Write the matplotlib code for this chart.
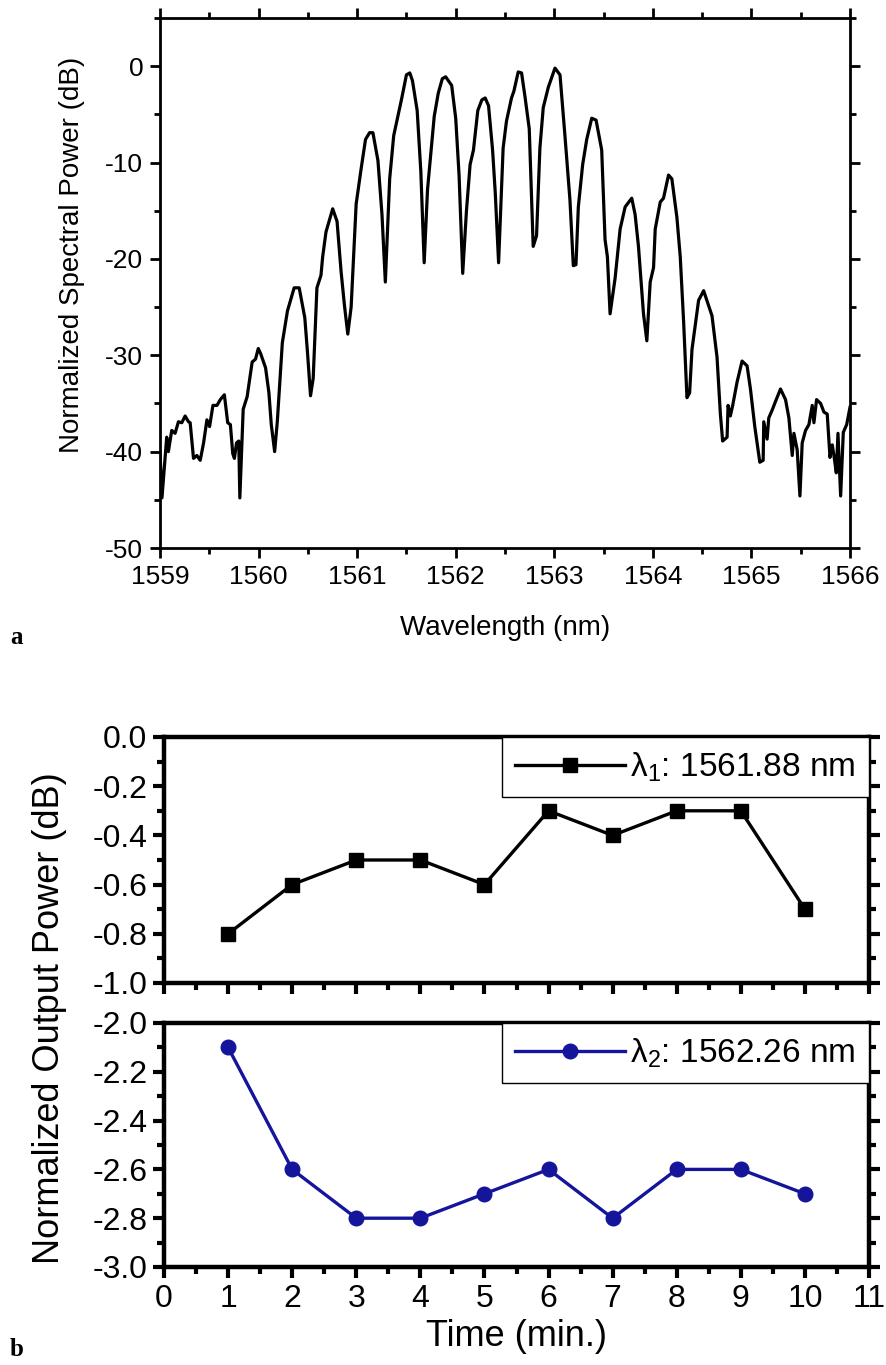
# -*- coding: utf-8 -*-
# Espectro normalizado (a) y estabilidad de potencia de salida (b)
import numpy as np
import matplotlib.pyplot as plt
from matplotlib.ticker import MultipleLocator

plt.rcParams['font.family'] = ['Liberation Sans', 'DejaVu Sans']
plt.rcParams['axes.unicode_minus'] = False
plt.rcParams['mathtext.fontset'] = 'custom'
plt.rcParams['mathtext.rm'] = 'Liberation Sans'
plt.rcParams['mathtext.it'] = 'Liberation Sans:italic'
plt.rcParams['mathtext.default'] = 'regular'

# ------------------------------------------------------------------
# Datos
# ------------------------------------------------------------------
wavelength = [
    1559.000, 1559.020, 1559.068, 1559.085, 1559.119, 1559.153, 1559.187, 1559.221,
    1559.255, 1559.289, 1559.306, 1559.340, 1559.374, 1559.408, 1559.442, 1559.476,
    1559.503, 1559.537, 1559.578, 1559.612, 1559.653, 1559.687, 1559.714, 1559.738,
    1559.755, 1559.776, 1559.799, 1559.810, 1559.823, 1559.844, 1559.884, 1559.935,
    1559.969, 1559.997, 1560.020, 1560.071, 1560.105, 1560.129, 1560.163, 1560.190,
    1560.241, 1560.293, 1560.361, 1560.412, 1560.469, 1560.497, 1560.527, 1560.554,
    1560.592, 1560.633, 1560.650, 1560.684, 1560.752, 1560.796, 1560.837, 1560.871,
    1560.905, 1560.939, 1560.990, 1561.041, 1561.085, 1561.126, 1561.160, 1561.211,
    1561.252, 1561.286, 1561.330, 1561.371, 1561.422, 1561.449, 1561.500, 1561.534,
    1561.561, 1561.609, 1561.646, 1561.680, 1561.714, 1561.782, 1561.823, 1561.864,
    1561.898, 1561.959, 1562.000, 1562.034, 1562.071, 1562.109, 1562.146, 1562.180,
    1562.224, 1562.265, 1562.299, 1562.333, 1562.374, 1562.401, 1562.435,
    1562.481, 1562.515, 1562.566, 1562.590, 1562.634, 1562.668, 1562.702, 1562.746,
    1562.786, 1562.820, 1562.854, 1562.888, 1562.939, 1563.007, 1563.058, 1563.108,
    1563.159, 1563.193, 1563.220, 1563.244, 1563.288, 1563.329, 1563.380, 1563.424,
    1563.481, 1563.515, 1563.539, 1563.566, 1563.617, 1563.668, 1563.719, 1563.786,
    1563.820, 1563.854, 1563.905, 1563.939, 1563.973, 1564.007, 1564.024, 1564.075,
    1564.108, 1564.159, 1564.193, 1564.244, 1564.278, 1564.312, 1564.346, 1564.373,
    1564.397, 1564.464, 1564.515, 1564.600, 1564.651, 1564.685, 1564.708, 1564.753,
    1564.763, 1564.786, 1564.810, 1564.854, 1564.905, 1564.956, 1564.990, 1565.034,
    1565.085, 1565.119, 1565.125, 1565.159, 1565.176, 1565.210, 1565.244, 1565.295,
    1565.346, 1565.380, 1565.414, 1565.431, 1565.464, 1565.492, 1565.515, 1565.549,
    1565.583, 1565.617, 1565.634, 1565.661, 1565.702, 1565.736, 1565.769, 1565.797,
    1565.820, 1565.837, 1565.861, 1565.878, 1565.905, 1565.932, 1565.966, 1566.000,
]
power_db = [
    -40.0, -44.8, -38.5, -40.0, -37.8, -38.1, -36.9, -37.0,
    -36.3, -36.9, -37.0, -40.7, -40.4, -40.9, -39.1, -36.7,
    -37.4, -35.2, -35.2, -34.6, -34.1, -37.0, -37.2, -40.2,
    -40.7, -39.1, -38.9, -44.8, -41.3, -35.6, -34.3, -30.7,
    -30.4, -29.3, -29.8, -31.3, -33.9, -37.2, -40.0, -36.9,
    -28.7, -25.4, -23.0, -23.0, -26.1, -29.8, -34.2, -32.4,
    -23.0, -21.7, -19.8, -17.2, -14.8, -16.1, -21.3, -24.8,
    -27.8, -25.0, -14.3, -10.6, -7.6, -6.9, -6.9, -9.8,
    -15.4, -22.4, -11.7, -7.2, -4.8, -3.5, -0.9, -0.7,
    -1.5, -4.6, -10.9, -20.4, -12.8, -5.2, -2.8, -1.3,
    -1.1, -2.0, -5.4, -11.3, -21.5, -15.0, -10.2, -8.7,
    -4.6, -3.5, -3.3, -4.1, -8.7, -13.1, -20.4,
    -8.5, -5.7, -3.3, -2.6, -0.6, -0.7, -3.1, -6.5,
    -18.7, -17.6, -8.5, -4.3, -2.2, -0.2, -0.9, -7.2,
    -13.9, -20.7, -20.6, -14.6, -10.2, -7.6, -5.4, -5.6,
    -8.7, -18.0, -19.8, -25.7, -22.0, -16.9, -14.6, -13.7,
    -15.4, -18.7, -25.7, -28.5, -22.4, -20.9, -16.9, -14.1,
    -13.7, -11.3, -11.7, -15.7, -19.8, -26.5, -34.4, -33.9,
    -29.4, -24.3, -23.3, -25.9, -30.2, -36.1, -38.9, -38.5,
    -35.2, -36.3, -35.2, -32.8, -30.6, -31.1, -33.5, -37.4,
    -41.1, -40.9, -36.9, -38.7, -36.5, -35.7, -34.8, -33.5,
    -34.6, -36.5, -40.4, -38.1, -39.8, -44.6, -39.1, -37.8,
    -37.2, -35.2, -37.0, -34.6, -35.0, -35.9, -36.1, -40.6,
    -39.3, -40.4, -42.2, -38.1, -44.6, -38.0, -37.2, -35.4,
]

time_min = [1, 2, 3, 4, 5, 6, 7, 8, 9, 10]
power_l1 = [-0.8, -0.6, -0.5, -0.5, -0.6, -0.3, -0.4, -0.3, -0.3, -0.7]
power_l2 = [-2.1, -2.6, -2.8, -2.8, -2.7, -2.6, -2.8, -2.6, -2.6, -2.7]

label_l1 = r'$\lambda_1$: 1561.88 nm'
label_l2 = r'$\lambda_2$: 1562.26 nm'

W, H = 886, 1365
color_l2 = '#15159c'


def px_axes(left, top, right, bottom):
    return [left / W, 1 - bottom / H, (right - left) / W, (bottom - top) / H]


fig = plt.figure(figsize=(W / 100, H / 100), dpi=100)

# ------------------------------------------------------------------
# (a) Espectro
# ------------------------------------------------------------------
ax_a = fig.add_axes(px_axes(160, 18, 850, 548))
ax_a.plot(wavelength, power_db, color='black', linewidth=2.3)
ax_a.set_xlim(1559, 1566)
ax_a.set_ylim(-50, 5)
ax_a.xaxis.set_major_locator(MultipleLocator(1))
ax_a.xaxis.set_minor_locator(MultipleLocator(0.5))
ax_a.yaxis.set_major_locator(MultipleLocator(10))
ax_a.yaxis.set_minor_locator(MultipleLocator(5))
ax_a.set_yticks([0, -10, -20, -30, -40, -50])
for s in ax_a.spines.values():
    s.set_linewidth(2.0)
ax_a.tick_params(which='both', direction='out', top=True, right=True,
                 width=2.0, labelsize=19, pad=5)
ax_a.tick_params(which='major', length=7)
ax_a.tick_params(which='minor', length=4)

fig.text(72 / W, 1 - 255 / H, 'Normalized Spectral Power (dB)', rotation=90,
         ha='center', va='center', fontsize=20)
fig.text(505 / W, 1 - 628 / H, 'Wavelength (nm)', ha='center', va='center',
         fontsize=20)
fig.text(10 / W, 1 - 637 / H, 'a', ha='left', va='center', fontsize=18,
         family='Liberation Serif', weight='bold')

# ------------------------------------------------------------------
# (b) Estabilidad de potencia
# ------------------------------------------------------------------
ax_b1 = fig.add_axes(px_axes(164, 737, 869, 983))
ax_b2 = fig.add_axes(px_axes(164, 1023, 869, 1267), sharex=ax_b1)

ax_b1.plot(time_min, power_l1, color='black', linewidth=2.4, marker='s',
           markersize=10, label=label_l1)
ax_b2.plot(time_min, power_l2, color=color_l2, linewidth=2.4, marker='o',
           markersize=10.5, label=label_l2)

ax_b1.set_ylim(-1.0, 0.0)
ax_b2.set_ylim(-3.0, -2.0)
ax_b1.set_xlim(0, 11)
for ax in (ax_b1, ax_b2):
    ax.xaxis.set_major_locator(MultipleLocator(1))
    ax.xaxis.set_minor_locator(MultipleLocator(0.5))
    ax.yaxis.set_major_locator(MultipleLocator(0.2))
    ax.yaxis.set_minor_locator(MultipleLocator(0.1))
    ax.yaxis.set_major_formatter('{x:.1f}')
    for s in ax.spines.values():
        s.set_linewidth(3.2)
    ax.tick_params(which='both', direction='out', top=False, right=True,
                   width=3.0, labelsize=23, pad=4)
    ax.tick_params(which='major', length=8)
    ax.tick_params(which='minor', length=5)
    leg = ax.legend(loc='upper right', borderaxespad=0, fancybox=False,
                    framealpha=1, edgecolor='black', fontsize=24,
                    handlelength=3.3, handletextpad=0.15, borderpad=0.4)
    leg.get_frame().set_linewidth(1.0)
ax_b1.tick_params(labelbottom=False)

fig.text(50 / W, 1 - 1018 / H, 'Normalized Output Power (dB)', rotation=90,
         ha='center', va='center', fontsize=26)
fig.text(517 / W, 1 - 1337 / H, 'Time (min.)', ha='center', va='center',
         fontsize=26)
fig.text(10 / W, 1 - 1350 / H, 'b', ha='left', va='center', fontsize=18,
         family='Liberation Serif', weight='bold')

fig.savefig('out.png', dpi=100)
